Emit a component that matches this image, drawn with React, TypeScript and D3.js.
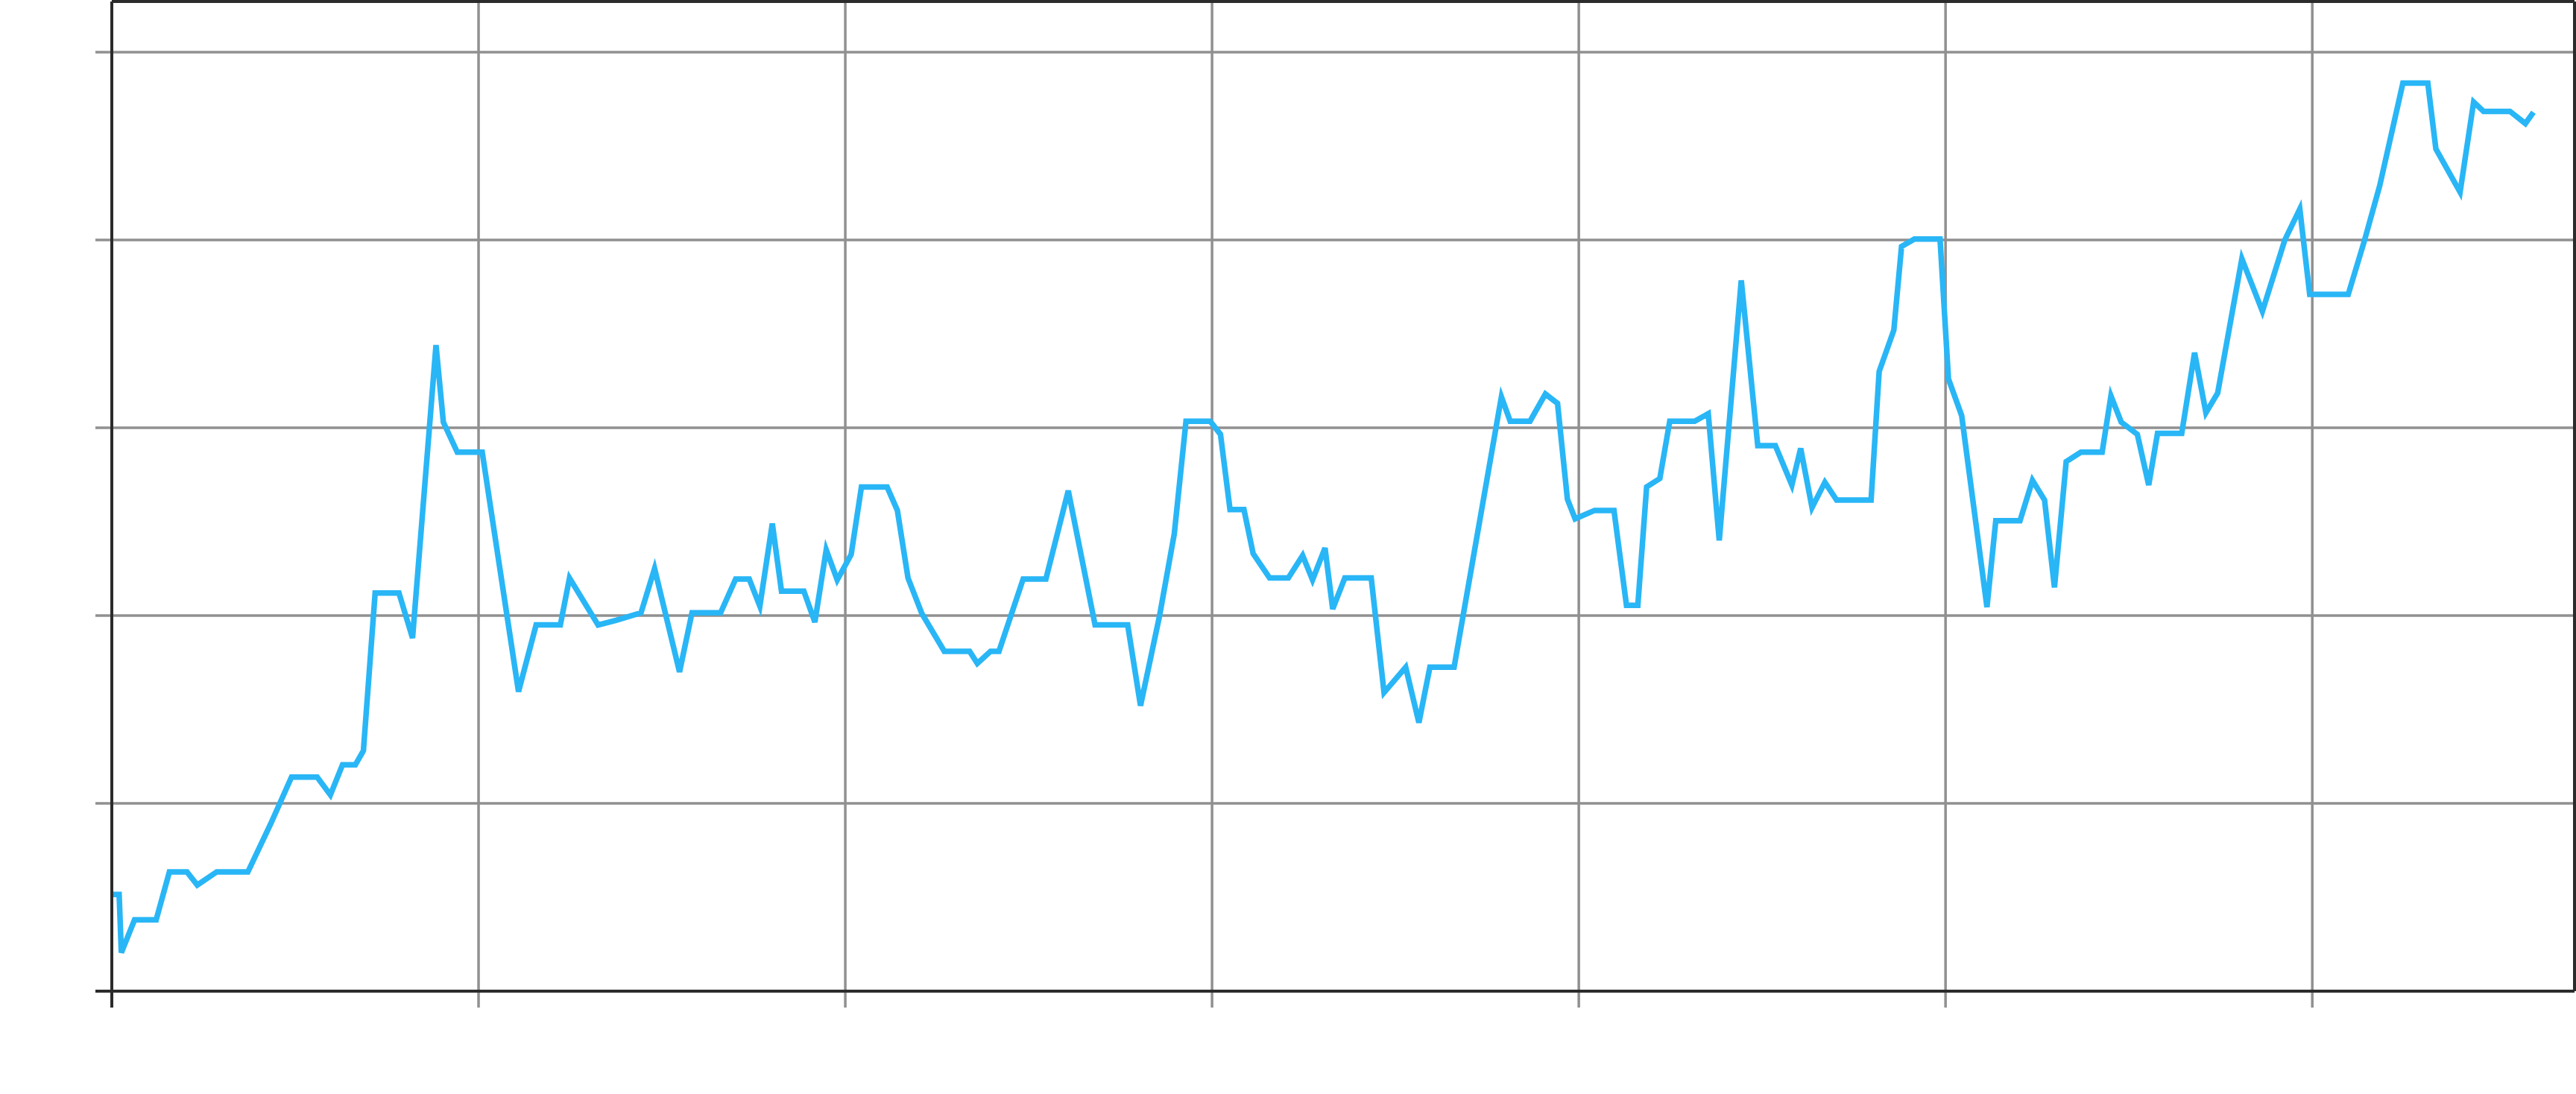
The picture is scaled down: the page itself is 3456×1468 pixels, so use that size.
import React, { useEffect, useRef } from 'react';
import * as d3 from 'd3';

// x in axis units (grid every 100), y in axis units (grid every 20)
const xValues = [
  0.4, 2.0, 2.6, 6.2, 12.1, 15.7, 20.5, 23.3, 28.6, 37.1,
  43.3, 49.0, 56.0, 59.6, 62.9, 66.4, 68.6, 71.8, 78.3, 82.0,
  88.4, 90.4, 94.2, 101.0, 110.9, 115.7, 122.3, 124.8, 132.6, 137.5,
  144.3, 148.0, 154.8, 158.2, 166.0, 170.1, 173.8, 176.7, 180.1, 182.6,
  188.7, 191.7, 194.8, 197.8, 201.6, 204.4, 211.4, 214.2, 217.1, 220.9,
  227.0, 233.9, 236.0, 239.6, 241.9, 248.5, 254.7, 260.8, 268.1, 277.0,
  280.5, 285.7, 289.7, 292.9, 299.5, 302.3, 304.9, 308.7, 311.2, 315.7,
  320.8, 324.7, 327.4, 330.8, 332.9, 336.2, 343.4, 346.9, 352.8, 356.4,
  359.4, 366.0, 378.9, 381.3, 386.7, 390.9, 394.2, 396.9, 399.0, 404.3,
  409.6, 413.0, 416.1, 418.5, 422.1, 424.8, 431.6, 435.3, 438.3, 444.3,
  448.8, 453.6, 458.1, 460.5, 463.6, 467.1, 470.3, 479.7, 481.9, 485.9,
  488.0, 491.5, 498.5, 500.8, 504.4, 511.3, 513.7, 520.3, 523.7, 527.0,
  529.7, 532.9, 536.9, 542.7, 545.1, 547.9, 552.3, 555.4, 557.8, 564.4,
  567.9, 571.0, 574.2, 580.8, 586.4, 592.5, 596.6, 599.3, 609.8, 614.2,
  618.4, 624.7, 631.5, 633.7, 640.3, 644.0, 646.7, 653.9, 658.1, 660.3,
];

const yValues = [
  10.3, 10.3, 4.1, 7.6, 7.6, 12.7, 12.7, 11.3, 12.7, 12.7,
  17.8, 22.8, 22.8, 20.9, 24.1, 24.1, 25.6, 42.4, 42.4, 37.6,
  68.8, 60.6, 57.4, 57.4, 31.9, 39.0, 39.0, 44.0, 39.0, 39.5,
  40.3, 45.0, 34.0, 40.3, 40.3, 43.9, 43.9, 41.0, 49.8, 42.6,
  42.6, 39.3, 47.0, 43.8, 46.5, 53.7, 53.7, 51.2, 44.0, 40.2,
  36.2, 36.2, 34.9, 36.2, 36.2, 43.9, 43.9, 53.3, 39.0, 39.0,
  30.4, 40.0, 48.7, 60.7, 60.7, 59.3, 51.3, 51.3, 46.6, 44.0,
  44.0, 46.4, 43.8, 47.2, 40.7, 44.0, 44.0, 31.8, 34.5, 28.6,
  34.5, 34.5, 63.3, 60.7, 60.7, 63.6, 62.6, 52.4, 50.3, 51.2,
  51.2, 41.1, 41.1, 53.7, 54.6, 60.7, 60.7, 61.5, 48.0, 75.7,
  58.1, 58.1, 53.9, 57.8, 51.5, 54.2, 52.3, 52.3, 66.0, 70.4,
  79.3, 80.1, 80.1, 65.2, 61.3, 40.9, 50.1, 50.1, 54.4, 52.3,
  43.0, 56.4, 57.4, 57.4, 63.4, 60.6, 59.3, 53.9, 59.4, 59.4,
  68.0, 61.6, 63.7, 78.0, 72.4, 80.0, 83.3, 74.2, 74.2, 79.9,
  85.8, 96.7, 96.7, 89.7, 85.1, 94.7, 93.7, 93.7, 92.4, 93.6,
];

const xTicks = [0, 100, 200, 300, 400, 500, 600];
const yTicks = [0, 20, 40, 60, 80, 100];

const WIDTH = 3456;
const HEIGHT = 1468;
const margin = { top: 2, right: 2, bottom: 138, left: 150 };
const TICK = 22;

export default function App() {
  const svgRef = useRef<SVGSVGElement>(null);

  useEffect(() => {
    if (!svgRef.current) return;
    const svg = d3.select(svgRef.current);
    svg.selectAll('*').remove();

    const innerWidth = WIDTH - margin.left - margin.right;
    const innerHeight = HEIGHT - margin.top - margin.bottom;
    const x0 = margin.left;
    const x1 = margin.left + innerWidth;
    const y0 = margin.top + innerHeight;
    const y1 = margin.top;

    const x = d3.scaleLinear().domain([0, 671.5]).range([x0, x1]);
    const y = d3.scaleLinear().domain([0, 105.4]).range([y0, y1]);

    const gridColor = '#909090';
    const axisColor = '#2b2b2b';

    // horizontal grid + left ticks
    svg.append('g')
      .selectAll('line')
      .data(yTicks.filter(d => d !== 0))
      .join('line')
      .attr('x1', x0 - TICK)
      .attr('x2', x1)
      .attr('y1', d => y(d))
      .attr('y2', d => y(d))
      .attr('stroke', gridColor)
      .attr('stroke-width', 3.5);

    // vertical grid + bottom ticks
    svg.append('g')
      .selectAll('line')
      .data(xTicks.filter(d => d !== 0))
      .join('line')
      .attr('x1', d => x(d))
      .attr('x2', d => x(d))
      .attr('y1', y1)
      .attr('y2', y0 + TICK)
      .attr('stroke', gridColor)
      .attr('stroke-width', 3.5);

    const line = d3.line<number>()
      .x((_, i) => x(xValues[i]))
      .y(d => y(d));

    svg.append('path')
      .datum(yValues)
      .attr('fill', 'none')
      .attr('stroke', '#29b6f6')
      .attr('stroke-width', 7.5)
      .attr('stroke-linejoin', 'miter')
      .attr('stroke-miterlimit', 4)
      .attr('d', line);

    // spines
    const spines = svg.append('g')
      .attr('stroke', axisColor)
      .attr('stroke-width', 4);
    spines.append('line').attr('x1', x0).attr('x2', x0).attr('y1', y1).attr('y2', y0 + TICK);
    spines.append('line').attr('x1', x0 - TICK).attr('x2', x1).attr('y1', y0).attr('y2', y0);
    spines.append('line').attr('x1', x0).attr('x2', x1).attr('y1', y1).attr('y2', y1);
    spines.append('line').attr('x1', x1).attr('x2', x1).attr('y1', y1).attr('y2', y0);
  }, []);

  return (
    <svg
      ref={svgRef}
      width={WIDTH}
      height={HEIGHT}
      style={{ position: 'absolute', left: 0, top: 0, background: '#fff' }}
    />
  );
}
